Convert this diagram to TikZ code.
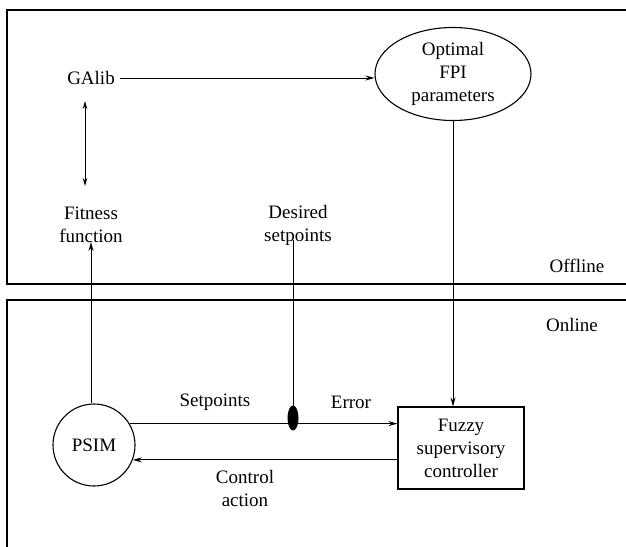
\documentclass[tikz,border=0pt]{standalone}
\usepackage{fontspec}
\setmainfont{Liberation Serif}
\usetikzlibrary{arrows.meta,shapes.geometric}
\begin{document}
\begin{tikzpicture}[x=1pt,y=-1pt,
  lbl/.style={font=\fontsize{19}{23}\selectfont, align=center, inner sep=1pt},
  arr/.style={line width=1pt, -{Stealth[length=9pt,width=5pt]}},
  darr/.style={line width=1pt, {Stealth[length=8pt,width=4.5pt]}-{Stealth[length=8pt,width=4.5pt]}},
  frame/.style={line width=1.4pt},
  elbox/.style={ellipse, draw, line width=1.1pt, minimum width=156pt, minimum height=93pt, inner sep=0pt},
  circbox/.style={circle, draw, line width=1.1pt, minimum size=82pt, inner sep=0pt},
  recbox/.style={rectangle, draw, line width=1.1pt, minimum width=126pt, minimum height=82pt, inner sep=0pt}]
\useasboundingbox (0,0) rectangle (626,546);
% frames
\draw[frame] (640,10) -- (7,10) -- (7,284) -- (640,284);
\draw[frame] (640,300) -- (7,300) -- (7,560);
% nodes
\node[lbl] (galib) at (91,78) {GAlib};
\node[elbox, lbl] (opt) at (453,74) {Optimal\\FPI\\parameters};
\node[lbl] (fitness) at (91,225) {Fitness\\function};
\node[lbl] (desired) at (298,225) {Desired\\setpoints};
\node[lbl] (offline) at (577,266) {Offline};
\node[lbl] (online) at (572,325) {Online};
\node[circbox, lbl] (psim) at (94,445) {PSIM};
\node[recbox, lbl] (fuzzy) at (461,448) {Fuzzy\\supervisory\\controller};
\node[lbl] (setp) at (215,402) {Setpoints};
\node[lbl] (err) at (351,402) {Error};
\node[lbl] (ctrl) at (245,488) {Control\\action};
\coordinate (bc) at (293,418);
% connectors
\draw[arr, shorten <=4pt] (galib.east) -- (opt.west |- galib.east);
\coordinate (dtop) at (85,101);
\coordinate (dbot) at (85,186);
\draw[darr] (dtop) -- (dbot);
\draw[arr] (psim.north -| fitness) -- ([yshift=2pt]fitness.south);
\draw[arr] ([yshift=6pt]desired.south -| bc) -- ([yshift=-11pt]bc);
\draw[arr] (opt.south) -- (opt.south |- fuzzy.north);
\draw[arr] (psim.31) -- (psim.31 -| fuzzy.west);
\draw[arr] (fuzzy.west |- psim.-21) -- (psim.-21);
\node[ellipse, fill=black, minimum width=11pt, minimum height=25pt, inner sep=0pt] (blob) at (bc) {};
\end{tikzpicture}
\end{document}
